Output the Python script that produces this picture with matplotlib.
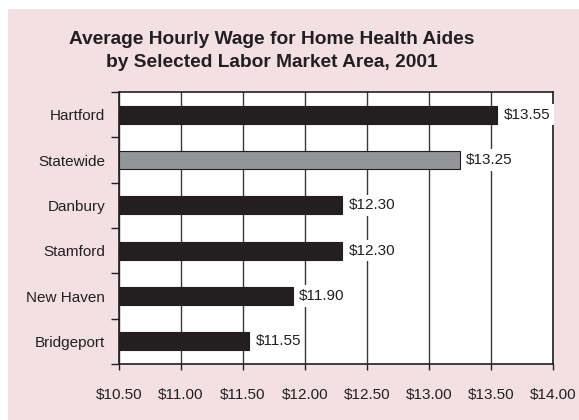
import matplotlib
matplotlib.use("Agg")
import matplotlib.pyplot as plt
from matplotlib.patches import Rectangle

plt.rcParams['font.family'] = ['Liberation Sans', 'DejaVu Sans']

areas = ["Hartford", "Statewide", "Danbury", "Stamford", "New Haven", "Bridgeport"]
wages = [13.55, 13.25, 12.30, 12.30, 11.90, 11.55]
value_labels = ["$13.55", "$13.25", "$12.30", "$12.30", "$11.90", "$11.55"]
xticks = [10.5, 11.0, 11.5, 12.0, 12.5, 13.0, 13.5, 14.0]
xtick_labels = ["$10.50", "$11.00", "$11.50", "$12.00", "$12.50", "$13.00", "$13.50", "$14.00"]
title = "Average Hourly Wage for Home Health Aides\nby Selected Labor Market Area, 2001"

pink = "#f3e0e4"
dark = "#231f20"
gray = "#939598"

fig = plt.figure(figsize=(5.79, 4.20), dpi=100, facecolor="white")
fig.patches.append(Rectangle((8/579, 0), 1 - 8/579, 1 - 9/420, transform=fig.transFigure,
                             facecolor=pink, edgecolor="none", zorder=-10))

ax = fig.add_axes([119/579, 1 - 364/420, (553-119)/579, (364-92)/420])
ax.set_facecolor("white")

n = len(areas)
ypos = list(range(n))
colors = [gray if a == "Statewide" else dark for a in areas]
bars = ax.barh(ypos, [w - xticks[0] for w in wages], left=xticks[0], height=0.4,
               color=colors, edgecolor=dark, linewidth=0.8, zorder=3)

for y, w, lab in zip(ypos, wages, value_labels):
    ax.text(w + 0.05, y, lab, va="center", ha="left", fontsize=11, color="#231f20",
            bbox=dict(facecolor="white", edgecolor="none", pad=2.5), zorder=4)

ax.set_xlim(xticks[0], xticks[-1])
ax.set_ylim(n - 0.5, -0.5)
ax.set_xticks(xticks)
ax.set_xticklabels(xtick_labels, fontsize=11, color="#231f20")
ax.xaxis.grid(True, color="#3a3a3a", linewidth=1.0, zorder=1)
ax.set_axisbelow(True)

ax.set_yticks(ypos)
ax.set_yticklabels(areas, fontsize=11, color="#231f20")
ax.tick_params(axis="y", length=0, pad=10)
ax.set_yticks([i + 0.5 for i in range(-1, n)], minor=True)
ax.tick_params(axis="y", which="minor", length=6, width=1, color=dark, direction="out")
ax.tick_params(axis="x", length=4, width=1, color=dark, direction="out", pad=13)

for s in ax.spines.values():
    s.set_color(dark)
    s.set_linewidth(1.2)

fig.text(272/579, 1 - 51/420, title, ha="center", va="center", fontsize=13.8,
         fontweight="bold", color="#231f20", linespacing=1.45)

fig.savefig("out.png", dpi=100, facecolor=fig.get_facecolor())
